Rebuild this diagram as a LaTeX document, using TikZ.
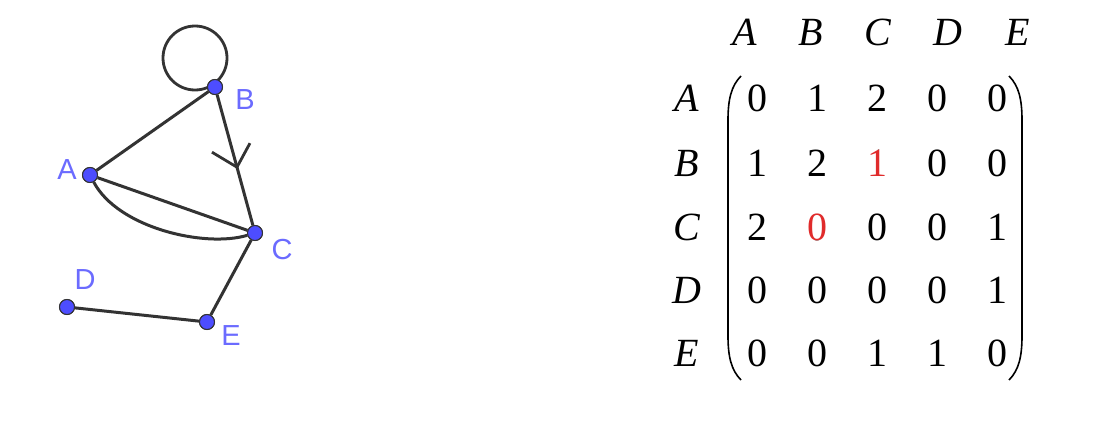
\documentclass[tikz,border=0pt]{standalone}
\usepackage{fontspec}
\setmainfont{Liberation Serif}
\newfontfamily\lblfont{Liberation Sans}
\definecolor{edgegray}{HTML}{333333}
\definecolor{dotblue}{HTML}{4D4DFF}
\definecolor{lblblue}{HTML}{6B6BFF}
\definecolor{hired}{HTML}{E02B2B}
\tikzset{
  vtx/.style={circle,fill=dotblue,draw=edgegray,line width=1pt,inner sep=0pt,minimum size=15pt},
  edg/.style={draw=edgegray,line width=3pt},
  vlbl/.style={font=\lblfont\fontsize{29}{32}\selectfont,text=lblblue,inner sep=0pt},
  ent/.style={font=\fontsize{40}{46}\selectfont,inner sep=0pt,anchor=base},
  hdr/.style={font=\fontsize{40}{46}\selectfont\itshape,inner sep=0pt,anchor=base},
  par/.style={draw=black,line width=1.6pt}
}
\begin{document}
\begin{tikzpicture}[x=1pt,y=-1pt]
\useasboundingbox (0,0) rectangle (1097,423);
% graph
\node[vtx] (B) at (215,87) {};
\node[vtx] (A) at (90,175) {};
\node[vtx] (C) at (255,233) {};
\node[vtx] (D) at (67,307) {};
\node[vtx] (E) at (207,322) {};
\coordinate (loopc) at (195,58);
\draw[edg,line width=2.8pt] (loopc) circle[radius=32];
\draw[edg] (A) -- (B);
\draw[edg] (B) -- (C);
\draw[edg] (A) -- (C);
\draw[edg] (A) .. controls (118,228) and (205,248) .. (C);
\draw[edg] (C) -- (E);
\draw[edg] (D) -- (E);
\path (B) -- (C) coordinate[pos=0.555] (tip);
\draw[edg,line width=2.8pt] (tip) ++(-25,-15) -- (tip) -- ++(13,-24);
\node[vtx] at (B) {};
\node[vtx] at (A) {};
\node[vtx] at (C) {};
\node[vtx] at (D) {};
\node[vtx] at (E) {};
\node[vlbl] (lA) at (67,170) {A};
\node[vlbl] (lB) at (245,100) {B};
\node[vlbl] (lC) at (282,250) {C};
\node[vlbl] (lD) at (85,280) {D};
\node[vlbl] (lE) at (231,336) {E};
% matrix headers
\foreach \n/\x in {A/745,B/811,C/878,D/948,E/1018}
  \node[hdr] (h\n) at (\x,45) {\n};
\foreach \n/\y in {A/111,B/176,C/240,D/303,E/366}
  \node[hdr] (r\n) at (687,\y) {\n};
% entries
\foreach \r/\y/\vals in {1/111/{0,1,2,0,0},2/176/{1,2,1,0,0},3/240/{2,0,0,0,1},4/303/{0,0,0,0,1},5/366/{0,0,1,1,0}}{
  \foreach \v [count=\c] in \vals {
    \pgfmathsetmacro{\xx}{697+60*\c}
    \node[ent] (m\r\c) at (\xx,\y) {\v};
  }
}
\node[ent,text=hired,fill=white,minimum width=20pt,minimum height=26pt] (m23r) at (877,176) {1};
\node[ent,text=hired,fill=white,minimum width=20pt,minimum height=26pt] (m32r) at (817,240) {0};
% parentheses
\draw[par] (741,76) .. controls (731,86) and (728,100) .. (728,120) -- (728,336) .. controls (728,356) and (731,370) .. (741,380);
\draw[par] (1009,76) .. controls (1019,86) and (1022,100) .. (1022,120) -- (1022,336) .. controls (1022,356) and (1019,370) .. (1009,380);
\end{tikzpicture}
\end{document}
